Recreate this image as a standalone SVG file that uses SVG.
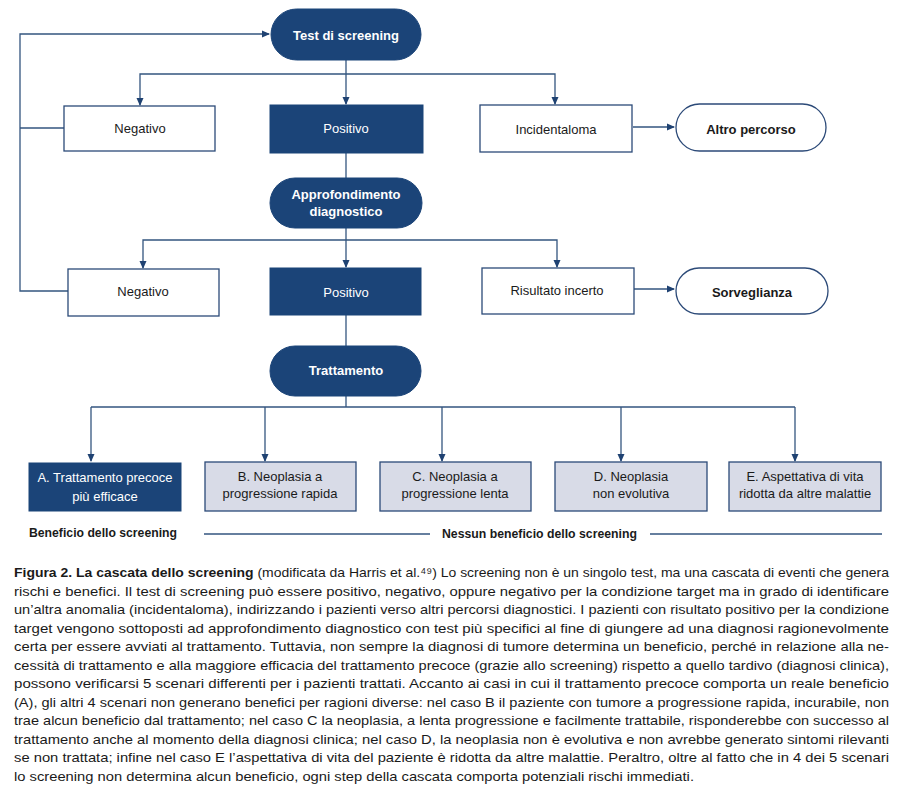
<svg xmlns="http://www.w3.org/2000/svg" width="900" height="791" viewBox="0 0 900 791">
<style>
.bg{fill:#ffffff}
.dark{fill:#1B4478;stroke:#1B4478;stroke-width:1}
.white{fill:#ffffff;stroke:#2C4A78;stroke-width:1.3}
.light{fill:#D8DBE7;stroke:#2C4A78;stroke-width:1.3}
.conn path{fill:none;stroke:#33557F;stroke-width:1.3}
.t{font-family:"Liberation Sans","DejaVu Sans",sans-serif;font-size:13px;text-anchor:middle}
.tw{fill:#ffffff}
.tb{fill:#1a1a1a}
.b{font-weight:bold}
.cap{font-family:"Liberation Sans","DejaVu Sans",sans-serif;font-size:13.6px;fill:#1a1a1a}
</style>
<defs>
<marker id="ar" markerUnits="userSpaceOnUse" markerWidth="8" markerHeight="8" viewBox="0 0 8 8" refX="7" refY="4" orient="auto">
<path d="M0,0.5 L8,4 L0,7.5 Z" fill="#1F4272"/>
</marker>
</defs>
<rect class="bg" x="0" y="0" width="900" height="791"/>

<g id="connectors" class="conn">
<path d="M68,291 H20 V34 H269" marker-end="url(#ar)"/>
<path d="M64,128 H20"/>
<path d="M346,60 V104" marker-end="url(#ar)"/>
<path d="M346,74 H140 V105" marker-end="url(#ar)"/>
<path d="M346,74 H555 V104" marker-end="url(#ar)"/>
<path d="M633,127 H674" marker-end="url(#ar)"/>
<path d="M346,153 V178"/>
<path d="M346,228 V267" marker-end="url(#ar)"/>
<path d="M346,240 H143 V268" marker-end="url(#ar)"/>
<path d="M346,240 H557 V267" marker-end="url(#ar)"/>
<path d="M634,289 H674" marker-end="url(#ar)"/>
<path d="M346,315 V346"/>
<path d="M346,396 V407"/>
<path d="M91,407 H795"/>
<path d="M91,407 V461" marker-end="url(#ar)"/>
<path d="M265,407 V461" marker-end="url(#ar)"/>
<path d="M442,407 V461" marker-end="url(#ar)"/>
<path d="M621,407 V461" marker-end="url(#ar)"/>
<path d="M795,407 V461" marker-end="url(#ar)"/>
<path d="M204,534 H430"/>
<path d="M650,534 H882"/>
</g>

<g id="test-screening">
<rect class="dark" x="271" y="9" width="150" height="51" rx="25.5"/>
<text class="t tw b" x="346" y="39.5">Test di screening</text>
</g>
<g id="negativo-1">
<rect class="white" x="64" y="106" width="151" height="45"/>
<text class="t tb" x="140" y="133">Negativo</text>
</g>
<g id="positivo-1">
<rect class="dark" x="270" y="105" width="153" height="48"/>
<text class="t tw" x="346" y="133">Positivo</text>
</g>
<g id="incidentaloma">
<rect class="white" x="480" y="105" width="152" height="47"/>
<text class="t tb" x="556" y="134">Incidentaloma</text>
</g>
<g id="altro-percorso">
<rect class="white" x="676" y="104" width="150" height="47" rx="23.5"/>
<text class="t tb b" x="751" y="134">Altro percorso</text>
</g>
<g id="approfondimento">
<rect class="dark" x="270" y="178" width="152" height="50" rx="25"/>
<text class="t tw b" x="346" y="199">Approfondimento</text>
<text class="t tw b" x="346" y="216">diagnostico</text>
</g>
<g id="negativo-2">
<rect class="white" x="68" y="269" width="151" height="47"/>
<text class="t tb" x="143" y="296">Negativo</text>
</g>
<g id="positivo-2">
<rect class="dark" x="270" y="268" width="151" height="47"/>
<text class="t tw" x="346" y="297">Positivo</text>
</g>
<g id="risultato-incerto">
<rect class="white" x="482" y="268" width="152" height="46"/>
<text class="t tb" x="557" y="295">Risultato incerto</text>
</g>
<g id="sorveglianza">
<rect class="white" x="676" y="268" width="152" height="46" rx="23"/>
<text class="t tb b" x="752" y="297">Sorveglianza</text>
</g>
<g id="trattamento">
<rect class="dark" x="270" y="346" width="151" height="50" rx="25"/>
<text class="t tw b" x="346" y="375">Trattamento</text>
</g>
<g id="scenario-a">
<rect class="dark" x="29" y="463" width="152" height="48"/>
<text class="t tw" x="105" y="482">A. Trattamento precoce</text>
<text class="t tw" x="105" y="501">più efficace</text>
</g>
<g id="scenario-b">
<rect class="light" x="205" y="462" width="151" height="49"/>
<text class="t tb" x="280" y="481">B. Neoplasia a</text>
<text class="t tb" x="280" y="498">progressione rapida</text>
</g>
<g id="scenario-c">
<rect class="light" x="380" y="462" width="151" height="49"/>
<text class="t tb" x="455" y="481">C. Neoplasia a</text>
<text class="t tb" x="455" y="498">progressione lenta</text>
</g>
<g id="scenario-d">
<rect class="light" x="555" y="462" width="152" height="49"/>
<text class="t tb" x="631" y="481">D. Neoplasia</text>
<text class="t tb" x="631" y="498">non evolutiva</text>
</g>
<g id="scenario-e">
<rect class="light" x="729" y="462" width="152" height="49"/>
<text class="t tb" x="805" y="481">E. Aspettativa di vita</text>
<text class="t tb" x="805" y="498">ridotta da altre malattie</text>
</g>
<g id="labels">
<text class="t tb b" x="29" y="537" style="text-anchor:start" textLength="148" lengthAdjust="spacingAndGlyphs">Beneficio dello screening</text>
<text class="t tb b" x="442" y="538" style="text-anchor:start" textLength="195" lengthAdjust="spacingAndGlyphs">Nessun beneficio dello screening</text>
</g>

<g id="caption" class="cap">
<text x="14" y="577" textLength="875" lengthAdjust="spacingAndGlyphs"><tspan font-weight="bold">Figura 2. La cascata dello screening</tspan> (modificata da Harris et al.⁴⁹) Lo screening non è un singolo test, ma una cascata di eventi che genera</text>
<text x="14" y="595.5" textLength="875" lengthAdjust="spacingAndGlyphs">rischi e benefici. Il test di screening può essere positivo, negativo, oppure negativo per la condizione target ma in grado di identificare</text>
<text x="14" y="614" textLength="875" lengthAdjust="spacingAndGlyphs">un’altra anomalia (incidentaloma), indirizzando i pazienti verso altri percorsi diagnostici. I pazienti con risultato positivo per la condizione</text>
<text x="14" y="632.5" textLength="875" lengthAdjust="spacingAndGlyphs">target vengono sottoposti ad approfondimento diagnostico con test più specifici al fine di giungere ad una diagnosi ragionevolmente</text>
<text x="14" y="651" textLength="875" lengthAdjust="spacingAndGlyphs">certa per essere avviati al trattamento. Tuttavia, non sempre la diagnosi di tumore determina un beneficio, perché in relazione alla ne-</text>
<text x="14" y="669.5" textLength="875" lengthAdjust="spacingAndGlyphs">cessità di trattamento e alla maggiore efficacia del trattamento precoce (grazie allo screening) rispetto a quello tardivo (diagnosi clinica),</text>
<text x="14" y="688" textLength="875" lengthAdjust="spacingAndGlyphs">possono verificarsi 5 scenari differenti per i pazienti trattati. Accanto ai casi in cui il trattamento precoce comporta un reale beneficio</text>
<text x="14" y="706.5" textLength="875" lengthAdjust="spacingAndGlyphs">(A), gli altri 4 scenari non generano benefici per ragioni diverse: nel caso B il paziente con tumore a progressione rapida, incurabile, non</text>
<text x="14" y="725" textLength="875" lengthAdjust="spacingAndGlyphs">trae alcun beneficio dal trattamento; nel caso C la neoplasia, a lenta progressione e facilmente trattabile, risponderebbe con successo al</text>
<text x="14" y="743.5" textLength="875" lengthAdjust="spacingAndGlyphs">trattamento anche al momento della diagnosi clinica; nel caso D, la neoplasia non è evolutiva e non avrebbe generato sintomi rilevanti</text>
<text x="14" y="762" textLength="875" lengthAdjust="spacingAndGlyphs">se non trattata; infine nel caso E l’aspettativa di vita del paziente è ridotta da altre malattie. Peraltro, oltre al fatto che in 4 dei 5 scenari</text>
<text x="14" y="780.5" textLength="680" lengthAdjust="spacingAndGlyphs">lo screening non determina alcun beneficio, ogni step della cascata comporta potenziali rischi immediati.</text>
</g>
</svg>
